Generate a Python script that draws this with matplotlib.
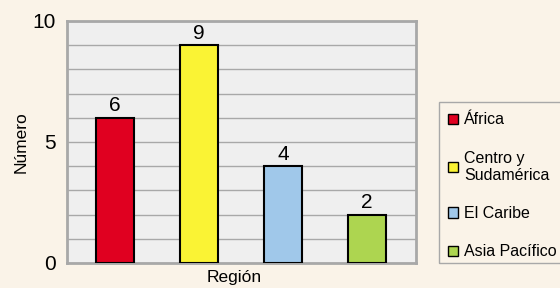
import matplotlib.pyplot as plt
from matplotlib.patches import Rectangle, Patch

regions = ["África", "Centro y\nSudamérica", "El Caribe", "Asia Pacífico"]
counts = [6, 9, 4, 2]
colors = ["#E00020", "#FAF334", "#A0C8EA", "#ADD550"]

bg = "#FAF3E8"
plt.rcParams['font.family'] = ['Liberation Sans', 'DejaVu Sans']

fig = plt.figure(figsize=(5.6, 2.88), dpi=100, facecolor=bg)
ax = fig.add_axes([67 / 560, 1 - 263 / 288, 349 / 560, 242 / 288])
ax.set_facecolor("#EFEFEF")

x = range(len(counts))
bars = ax.bar(x, counts, width=0.45, color=colors, edgecolor="black", linewidth=1.5, zorder=3)
for b, v in zip(bars, counts):
    ax.text(b.get_x() + b.get_width() / 2, v + 0.1, str(v), ha="center", va="bottom",
            fontsize=15, zorder=4)

ax.set_xlim(-0.565, 3.58)
ax.set_ylim(0, 10)
ax.set_yticks([0, 5, 10])
ax.set_yticks(range(11), minor=True)
ax.set_xticks([])
ax.tick_params(axis="y", which="both", length=0, labelsize=15, pad=8)
ax.grid(axis="y", which="both", color="#A8A8A8", linewidth=1, zorder=1)
for s in ax.spines.values():
    s.set_color("#A8A8A8")
    s.set_linewidth(2)

ax.set_ylabel("Número", fontsize=12.5, labelpad=3)
ax.set_xlabel("Región", fontsize=12.5, labelpad=4)
ax.xaxis.set_label_coords(0.48, -0.03, transform=ax.transAxes)
ax.xaxis.label.set_va("top")

# legend box, runs off the right edge like the original
fig.patches.append(Rectangle((439 / 560, 1 - 263 / 288), 0.3, 161 / 288,
                             transform=fig.transFigure, facecolor="none",
                             edgecolor="#A8A8A8", linewidth=1))
handles = [Patch(facecolor=c, edgecolor="black", linewidth=1) for c in colors]
fig.legend(handles, regions, loc="upper left", bbox_to_anchor=(434 / 560, 1 - 98 / 288),
           frameon=False, fontsize=11.5, handlelength=0.6, handleheight=0.6,
           handletextpad=0.4, labelspacing=1.45)

fig.savefig("out.png", dpi=100, facecolor=bg)
